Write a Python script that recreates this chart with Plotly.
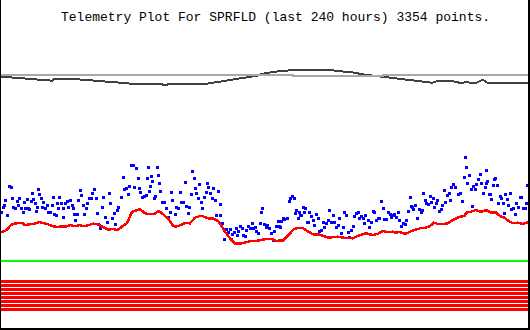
import plotly.graph_objects as go

# x: time position (0..530 across 240 hours), y: signal level (plot units, axis reversed)
title_text = "Telemetry Plot For SPRFLD (last 240 hours) 3354 points."

ref_x = [0, 287, 293, 377, 383, 530]
ref_y = [75, 75, 76, 76, 75, 75]

dark_x = [0, 13, 30, 40, 52, 55, 73, 87, 107, 120, 135, 160, 165, 170, 205, 213, 227, 243,
          257, 263, 275, 290, 332, 345, 355, 362, 368, 378, 392, 405, 422, 432, 438, 452,
          462, 465, 475, 483, 488, 495, 505, 530]
dark_y = [76.5, 77.7, 78.7, 80, 80.7, 78.7, 79, 80, 81.3, 82.7, 84, 84, 85, 84, 84, 82.7, 81,
          78.3, 75.7, 73.7, 71.7, 70.3, 70.3, 71.7, 72.7, 74.3, 75, 76.3, 78, 79.3, 81.3,
          82.7, 81, 81, 83.3, 82, 83.3, 79.7, 83.3, 83.3, 83.3, 82.7]

red_x = [0, 5, 8, 10, 13, 18, 22, 25, 30, 35, 39, 43, 48, 53, 57, 62, 67, 70, 75, 80, 83, 88,
         93, 98, 103, 108, 113, 117, 120, 123, 127, 129, 132, 135, 140, 145, 150, 155, 159,
         163, 168, 173, 176, 181, 185, 190, 195, 200, 203, 208, 213, 218, 221, 225, 230, 235,
         240, 246, 251, 256, 261, 266, 273, 276, 283, 286, 291, 294, 299, 303, 306, 309, 313,
         318, 321, 326, 329, 333, 338, 343, 348, 353, 356, 361, 366, 369, 373, 378, 383, 388,
         393, 396, 399, 403, 406, 411, 416, 421, 425, 430, 434, 438, 443, 448, 451, 456, 460,
         465, 466, 471, 476, 481, 486, 491, 496, 500, 505, 508, 513, 518, 523, 528]
red_y = [232.3, 231, 229, 226, 224, 223, 223, 225, 224.3, 223.7, 222, 223, 224.3, 226.3, 227,
         226.3, 226.3, 225, 226.3, 225, 226.3, 225.3, 223.7, 224.3, 227, 229.7, 229, 230.3,
         228.3, 225.7, 223.3, 218.3, 211.7, 211, 209, 213.3, 214.3, 213.7, 211, 214.3, 218.3,
         225.7, 226.7, 225, 223, 223.3, 217.7, 216, 216.3, 218.3, 218.3, 221, 225, 231.7,
         238.3, 243.3, 243.7, 242.3, 241, 241, 239.7, 239, 239.3, 241, 240.3, 237.7, 232.3,
         229, 227.7, 228.3, 230.3, 231.7, 234.3, 234.3, 235, 237, 237.7, 237, 236.7, 237.7,
         238.3, 238.3, 236.7, 235, 233, 234.3, 235, 233.7, 231, 232.3, 231.7, 233, 231.7,
         233.3, 233.7, 231.3, 229.3, 228, 228, 226, 222.7, 224, 224, 223.3, 221, 218.3, 216.7,
         216, 212.7, 211.7, 210, 212, 210, 212.7, 212.7, 216, 218, 220.7, 223.3, 222.7, 224, 222]

blue_x = [1, 3, 4, 5, 7, 9, 11, 12, 13, 15, 17, 18, 19, 21, 23, 24, 25, 27, 28, 29, 31, 32, 33,
          35, 36, 37, 38, 39, 41, 42, 43, 45, 47, 48, 50, 52, 53, 54, 56, 57, 58, 59, 61, 63,
          63, 65, 67, 68, 70, 72, 73, 74, 75, 77, 78, 80, 81, 83, 84, 86, 87, 89, 91, 92, 94,
          96, 97, 98, 100, 102, 103, 105, 107, 109, 110, 112, 114, 115, 117, 118, 121, 123,
          124, 126, 128, 129, 131, 133, 134, 136, 138, 139, 140, 142, 144, 146, 147, 148, 149,
          150, 151, 152, 154, 155, 157, 158, 159, 160, 162, 164, 166, 168, 170, 171, 172, 175,
          176, 178, 180, 181, 183, 185, 186, 188, 189, 191, 192, 194, 195, 196, 198, 199, 201,
          202, 204, 206, 207, 208, 210, 212, 213, 215, 216, 218, 220, 220, 222, 224, 226, 228,
          230, 231, 232, 234, 236, 237, 238, 240, 242, 243, 245, 246, 248, 250, 252, 253, 255,
          256, 258, 260, 261, 262, 264, 266, 267, 269, 271, 273, 274, 276, 278, 279, 280, 281,
          283, 284, 287, 289, 290, 292, 294, 295, 296, 298, 299, 300, 301, 303, 304, 305, 307,
          308, 309, 311, 313, 314, 316, 318, 319, 321, 323, 324, 326, 328, 329, 331, 333, 334,
          336, 338, 339, 341, 343, 344, 346, 348, 349, 351, 353, 354, 356, 358, 359, 361, 363,
          364, 365, 368, 369, 371, 373, 374, 376, 378, 379, 381, 383, 384, 386, 388, 390, 391,
          393, 394, 396, 398, 399, 401, 403, 405, 406, 408, 410, 411, 412, 413, 415, 417, 419,
          421, 422, 423, 425, 426, 428, 430, 431, 433, 434, 436, 437, 439, 441, 442, 444, 445,
          447, 449, 450, 451, 453, 455, 458, 460, 462, 464, 465, 466, 467, 469, 471, 472, 473,
          475, 476, 478, 480, 481, 483, 485, 486, 486, 487, 489, 490, 491, 493, 494, 495, 497,
          498, 500, 501, 503, 504, 505, 507, 508, 510, 511, 513, 515, 516, 518, 520, 521, 523,
          525, 526, 527, 529]
blue_y = [212, 207, 205, 200, 215, 186, 187, 198, 207, 208, 201, 205, 198, 208, 212, 202, 208,
          199, 208, 209, 201, 193, 199, 203, 211, 207, 189, 194, 198, 207, 202, 208, 205, 212,
          212, 205, 197, 214, 215, 203, 208, 197, 203, 217, 208, 203, 201, 207, 200, 205, 208,
          214, 220, 214, 200, 190, 195, 205, 214, 208, 203, 198, 198, 193, 189, 198, 213, 224,
          228, 207, 197, 217, 222, 193, 203, 218, 213, 224, 210, 207, 197, 177, 189, 188, 194,
          186, 165, 165, 187, 168, 178, 188, 192, 197, 196, 195, 178, 167, 191, 186, 176, 181,
          198, 196, 167, 175, 183, 191, 202, 202, 208, 217, 212, 192, 200, 214, 207, 208, 192,
          202, 202, 182, 206, 213, 207, 194, 171, 178, 188, 193, 198, 184, 202, 208, 197, 192,
          183, 187, 193, 198, 188, 200, 215, 191, 204, 215, 223, 239, 229, 232, 229, 239, 234,
          232, 228, 235, 231, 226, 228, 235, 236, 230, 226, 228, 223, 228, 227, 231, 233, 223,
          212, 208, 224, 227, 225, 228, 233, 240, 231, 226, 221, 226, 227, 221, 218, 219, 218,
          201, 198, 196, 198, 213, 210, 218, 212, 215, 215, 207, 212, 208, 222, 222, 212, 216,
          220, 225, 214, 218, 231, 230, 222, 227, 223, 220, 210, 222, 215, 222, 227, 225, 218,
          233, 227, 212, 215, 232, 237, 230, 226, 216, 213, 212, 218, 216, 218, 223, 215, 220,
          227, 222, 211, 212, 220, 218, 218, 201, 208, 219, 219, 212, 214, 217, 215, 214, 217,
          212, 220, 226, 223, 224, 220, 211, 197, 206, 207, 209, 205, 218, 209, 212, 210, 193,
          200, 203, 204, 196, 202, 198, 207, 203, 200, 211, 209, 205, 190, 202, 195, 193, 200,
          187, 184, 187, 194, 193, 201, 177, 157, 167, 183, 175, 189, 206, 186, 189, 184, 179,
          174, 183, 193, 187, 183, 170, 181, 194, 194, 199, 185, 179, 178, 185, 203, 196, 198,
          203, 213, 194, 199, 205, 193, 209, 208, 214, 203, 207, 197, 197, 208, 208, 203, 185,
          197]

status_green = [260.5]
status_red = [281.5, 285.5, 289.5, 293.5, 297.5, 301.5, 305.5, 309.5]
x_span = [0, 530]

fig = go.Figure()

fig.add_trace(go.Scatter(x=dark_x, y=dark_y, mode="lines",
                         line=dict(color="#404040", width=2), hoverinfo="skip"))
fig.add_trace(go.Scatter(x=ref_x, y=ref_y, mode="lines", line_shape="hv",
                         line=dict(color="#a8a8a8", width=2), hoverinfo="skip"))
fig.add_trace(go.Scatter(x=blue_x, y=blue_y, mode="markers",
                         marker=dict(color="#0000ff", size=3, symbol="square",
                                     line=dict(width=0)), hoverinfo="skip"))
fig.add_trace(go.Scatter(x=red_x, y=red_y, mode="lines",
                         line=dict(color="#ff0000", width=2.5), hoverinfo="skip"))
for lv in status_green:
    fig.add_trace(go.Scatter(x=x_span, y=[lv, lv], mode="lines",
                             line=dict(color="#00ff00", width=2), hoverinfo="skip"))
for lv in status_red:
    fig.add_trace(go.Scatter(x=x_span, y=[lv, lv], mode="lines",
                             line=dict(color="#ff0000", width=3), hoverinfo="skip"))

W, H = 530, 330
fig.update_layout(
    width=W, height=H,
    margin=dict(l=0, r=0, t=0, b=0, pad=0),
    paper_bgcolor="white", plot_bgcolor="white",
    showlegend=False,
    xaxis=dict(range=[0, 530], visible=False, fixedrange=True),
    yaxis=dict(range=[330, 0], visible=False, fixedrange=True),
    annotations=[dict(text=title_text, xref="paper", yref="paper",
                      x=275 / W, y=1 - 17 / H, xanchor="center", yanchor="middle",
                      showarrow=False,
                      font=dict(family="Liberation Mono, DejaVu Sans Mono, monospace",
                                size=13, color="black"))],
    shapes=[
        dict(type="line", xref="paper", yref="paper", x0=0.5 / W, x1=0.5 / W, y0=0, y1=1,
             line=dict(color="black", width=1)),
        dict(type="line", xref="paper", yref="paper", x0=529 / W, x1=529 / W, y0=0, y1=1,
             line=dict(color="black", width=2)),
        dict(type="line", xref="paper", yref="paper", x0=0, x1=1, y0=1 / H, y1=1 / H,
             line=dict(color="black", width=2)),
    ],
)

fig.write_html("out.html", config=dict(displayModeBar=False, staticPlot=True),
               post_script="document.body.style.margin='0';document.body.style.padding='0';"
                           "document.body.style.overflow='hidden';"
                           "document.querySelectorAll('.scatterlayer path, .layer-above path')"
                           ".forEach(function(p){p.style.shapeRendering='crispEdges';});")
